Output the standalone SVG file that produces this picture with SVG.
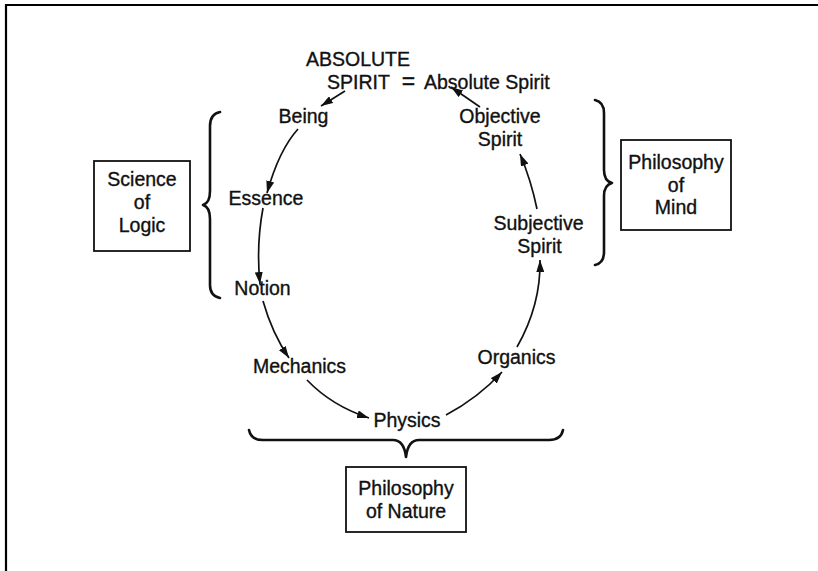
<svg xmlns="http://www.w3.org/2000/svg" width="818" height="571" viewBox="0 0 818 571">
<style>
text{font-family:"Liberation Sans",Arial,sans-serif;font-size:19.5px;fill:#111;stroke:#111;stroke-width:0.35;text-anchor:middle}
.c{fill:none;stroke:#111;stroke-width:1.7}
.br{fill:none;stroke:#111;stroke-width:2.6;stroke-linecap:round;stroke-linejoin:round}
.box{fill:#fff;stroke:#111;stroke-width:1.8}
</style>
<defs>
<marker id="ah" markerUnits="userSpaceOnUse" markerWidth="12" markerHeight="8" refX="12" refY="4" orient="auto">
<path d="M0,0 L12,4 L0,8 Z" fill="#111"/>
</marker>
</defs>
<rect width="818" height="571" fill="#fff"/>
<g id="frame" stroke="#000" stroke-width="2.2">
<line x1="5" y1="5" x2="818" y2="5"/>
<line x1="6" y1="4" x2="6" y2="571"/>
</g>
<g id="connectors">
<path class="c" d="M345,91 L321,106" marker-end="url(#ah)"/>
<path class="c" d="M480,107 L451,87" marker-end="url(#ah)"/>
<path class="c" d="M298,129 Q279,150 267,193" marker-end="url(#ah)"/>
<path class="c" d="M263,208 Q256,246 260,284" marker-end="url(#ah)"/>
<path class="c" d="M263,301 Q272,333 289,358" marker-end="url(#ah)"/>
<path class="c" d="M307,380 Q332,406 369,418" marker-end="url(#ah)"/>
<path class="c" d="M446,415 Q478,398 502,372" marker-end="url(#ah)"/>
<path class="c" d="M517,347 Q541,305 540,260" marker-end="url(#ah)"/>
<path class="c" d="M537,209 Q531,180 520,154" marker-end="url(#ah)"/>
</g>
<g id="absolute">
<text x="358" y="66">ABSOLUTE</text>
<text x="327" y="89" style="text-anchor:start">SPIRIT</text>
<text x="408.5" y="89" style="font-size:23px">=</text>
<text x="424" y="89" style="text-anchor:start">Absolute Spirit</text>
</g>
<g id="being"><text x="303.5" y="123">Being</text></g>
<g id="essence"><text x="266" y="205">Essence</text></g>
<g id="notion"><text x="262.5" y="295">Notion</text></g>
<g id="mechanics"><text x="299.5" y="373">Mechanics</text></g>
<g id="physics"><text x="407" y="427">Physics</text></g>
<g id="organics"><text x="516.5" y="364">Organics</text></g>
<g id="subjective"><text x="538.5" y="230">Subjective</text><text x="539.5" y="253">Spirit</text></g>
<g id="objective"><text x="500" y="123">Objective</text><text x="500" y="146">Spirit</text></g>
<g id="brace-logic"><path class="br" d="M220,112 Q210,114 210,126 L210,191 Q210,203 203,205 Q210,207 210,219 L210,285 Q210,296 220,298"/></g>
<g id="brace-mind"><path class="br" d="M595,100 Q604,102 604,113 L604,170 Q604,181 612,183 Q604,185 604,196 L604,252 Q604,263 595,265"/></g>
<g id="brace-nature"><path class="br" d="M249,430 Q251,440 263,440 L393,440 Q404,440 406,457 Q408,440 419,440 L549,440 Q561,440 563,430"/></g>
<g id="science-of-logic">
<rect class="box" x="94" y="161" width="96" height="90"/>
<text x="142" y="186">Science</text><text x="142" y="209">of</text><text x="142" y="232">Logic</text>
</g>
<g id="philosophy-of-mind">
<rect class="box" x="621" y="140" width="110" height="90"/>
<text x="676" y="169">Philosophy</text><text x="676" y="192">of</text><text x="676" y="214">Mind</text>
</g>
<g id="philosophy-of-nature">
<rect class="box" x="346" y="467" width="120" height="65"/>
<text x="406" y="495">Philosophy</text><text x="406" y="518">of Nature</text>
</g>
</svg>
